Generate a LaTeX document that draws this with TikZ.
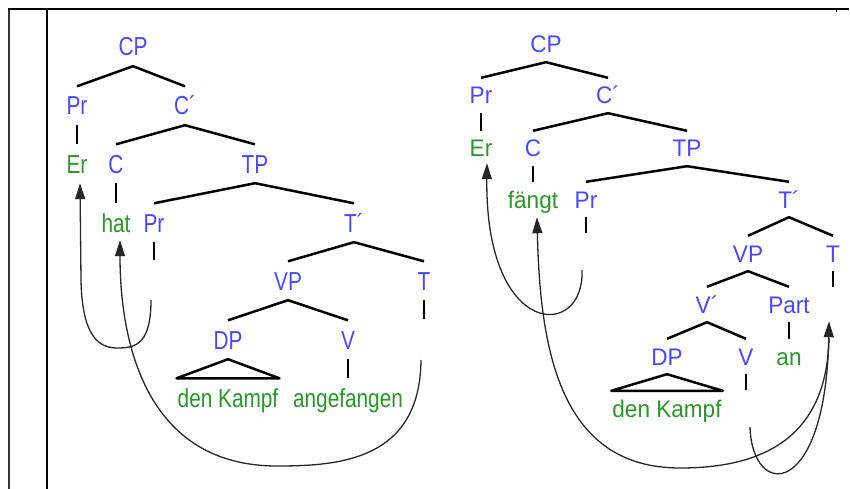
\documentclass[tikz,border=0pt]{standalone}
\usepackage{fontspec}
\setmainfont{Liberation Sans}
\usepackage{graphicx}
\usetikzlibrary{arrows.meta,calc}
\definecolor{catblue}{RGB}{72,72,255}
\definecolor{wgreen}{RGB}{40,150,40}
\newcommand\lx[1]{\scalebox{0.8}[1]{#1}}
\newcommand\rx[1]{\scalebox{0.94}[1]{#1}}
\begin{document}
\begin{tikzpicture}[x=1pt,y=-1pt,
  lt/.style={anchor=base, font=\fontsize{26}{30}\selectfont, inner xsep=1pt, inner ysep=10pt, text height=18.5pt, text depth=0pt},
  rt/.style={anchor=base, font=\fontsize{24}{28}\selectfont, inner xsep=1pt, inner ysep=9pt, text height=17pt, text depth=0pt},
  cat/.style={text=catblue},
  wrd/.style={text=wgreen},
  br/.style={line width=2.5pt, line join=round},
  tk/.style={line width=1.4pt},
  mv/.style={line width=1.3pt, draw=black!85, -{Triangle[length=16pt,width=10pt]}}
]
\useasboundingbox (0,0) rectangle (850,489);
% frame
\draw[line width=1.8pt, draw=black!80] (9,9) -- (9,489);
\draw[line width=2.5pt] (47,9) -- (47,489);
\draw[line width=2pt] (8,9) -- (849,9);
\draw[line width=1pt] (836,9) -- (836,12);

% ---------- left tree ----------
\node[lt,cat] (lCP)  at (133,56)  {\lx{CP}};
\node[lt,cat] (lPr)  at (77,115)  {\lx{Pr}};
\node[lt,cat] (lCb)  at (185,115) {\lx{C´}};
\node[lt,wrd] (lEr)  at (77,173)  {\lx{Er}};
\node[lt,cat] (lC)   at (116,173) {\lx{C}};
\node[lt,cat] (lTP)  at (255,173) {\lx{TP}};
\node[lt,wrd] (lhat) at (116,232) {\lx{hat}};
\node[lt,cat] (lPr2) at (154,232) {\lx{Pr}};
\node[lt,cat] (lTb)  at (354,232) {\lx{T´}};
\node[lt,cat] (lVP)  at (288,290) {\lx{VP}};
\node[lt,cat] (lT)   at (424,290) {\lx{T}};
\node[lt,cat] (lDP)  at (228,349) {\lx{DP}};
\node[lt,cat] (lV)   at (348,349) {\lx{V}};
\node[lt,wrd] (ldK)  at (228,407) {\lx{den Kampf}};
\node[lt,wrd] (lang) at (348,407) {\lx{angefangen}};

\draw[br] (lPr.north) -- (lCP.south) -- (lCb.north);
\draw[br] (lC.north) -- (lCb.south) -- (lTP.north);
\draw[br] (lPr2.north) -- (lTP.south) -- (lTb.north);
\draw[br] (lVP.north) -- (lTb.south) -- (lT.north);
\draw[br] (lDP.north) -- (lVP.south) -- (lV.north);
\draw[br] (lDP.south) -- (ldK.north west) -- (ldK.north east) -- cycle;
\draw[tk] (lPr.south) -- (lEr.north);
\draw[tk] (lC.south) -- (lhat.north);
\draw[tk] (lV.south) -- (lang.north);
\draw[tk] (lPr2.south) -- ++(0,18);
\draw[tk] (lT.south) -- ++(0,19);

\coordinate (lPrtr) at (151,300);
\coordinate (lTtr) at (421,360);
\draw[mv] (lPrtr) .. controls (151,345) and (135,348) .. (117,348)
  .. controls (95,348) and (82,330) .. (81,280) -- ([xshift=3pt]lEr.south);
\draw[mv] (lTtr) .. controls (420,460) and (340,466) .. (277,466)
  .. controls (150,466) and (120,350) .. ([xshift=4pt,yshift=2pt]lhat.south);

% ---------- right tree ----------
\node[rt,cat] (rCP)   at (546,53)  {\rx{CP}};
\node[rt,cat] (rPr)   at (481,104) {\rx{Pr}};
\node[rt,cat] (rCb)   at (608,104) {\rx{C´}};
\node[rt,wrd] (rEr)   at (481,157) {\rx{Er}};
\node[rt,cat] (rC)    at (533,157) {\rx{C}};
\node[rt,cat] (rTP)   at (687,157) {\rx{TP}};
\node[rt,wrd] (rf)    at (533,208) {\rx{fängt}};
\node[rt,cat] (rPr2)  at (586,208) {\rx{Pr}};
\node[rt,cat] (rTb)   at (789,208) {\rx{T´}};
\node[rt,cat] (rVP)   at (748,262) {\rx{VP}};
\node[rt,cat] (rT)    at (833,262) {\rx{T}};
\node[rt,cat] (rVb)   at (707,313) {\rx{V´}};
\node[rt,cat] (rPart) at (789,313) {\rx{Part}};
\node[rt,cat] (rDP)   at (667,365) {\rx{DP}};
\node[rt,cat] (rV)    at (746,365) {\rx{V}};
\node[rt,wrd] (ran)   at (789,365) {\rx{an}};
\node[rt,wrd] (rdK)   at (667,417) {\rx{den Kampf}};

\draw[br] (rPr.north) -- (rCP.south) -- (rCb.north);
\draw[br] (rC.north) -- (rCb.south) -- (rTP.north);
\draw[br] (rPr2.north) -- (rTP.south) -- (rTb.north);
\draw[br] (rVP.north) -- (rTb.south) -- (rT.north);
\draw[br] (rVb.north) -- (rVP.south) -- (rPart.north);
\draw[br] (rDP.north) -- (rVb.south) -- (rV.north);
\draw[br] (rDP.south) -- (rdK.north west) -- (rdK.north east) -- cycle;
\draw[tk] (rPr.south) -- (rEr.north);
\draw[tk] (rC.south) -- (rf.north);
\draw[tk] (rPart.south) -- (ran.north);
\draw[tk] (rPr2.south) -- ++(0,16);
\draw[tk] (rT.south) -- ++(0,16);
\draw[tk] (rV.south) -- ++(0,16);

\coordinate (rPrtr) at (582,270);
\coordinate (rVtr) at (750,427);
\coordinate (rTtr) at (829,338);
\coordinate (rTtip) at ([xshift=-4pt,yshift=-50pt]rT.south);
\draw[mv] (rPrtr) .. controls (585,340) and (485,340) .. ([xshift=6pt,yshift=3pt]rEr.south);
\draw[mv] (rTtr) .. controls (827,440) and (760,468) .. (680,468)
  .. controls (560,468) and (540,350) .. ([xshift=4pt]rf.south);
\draw[mv] (rVtr) .. controls (752,500) and (826,500) .. (rTtip);
\end{tikzpicture}
\end{document}
